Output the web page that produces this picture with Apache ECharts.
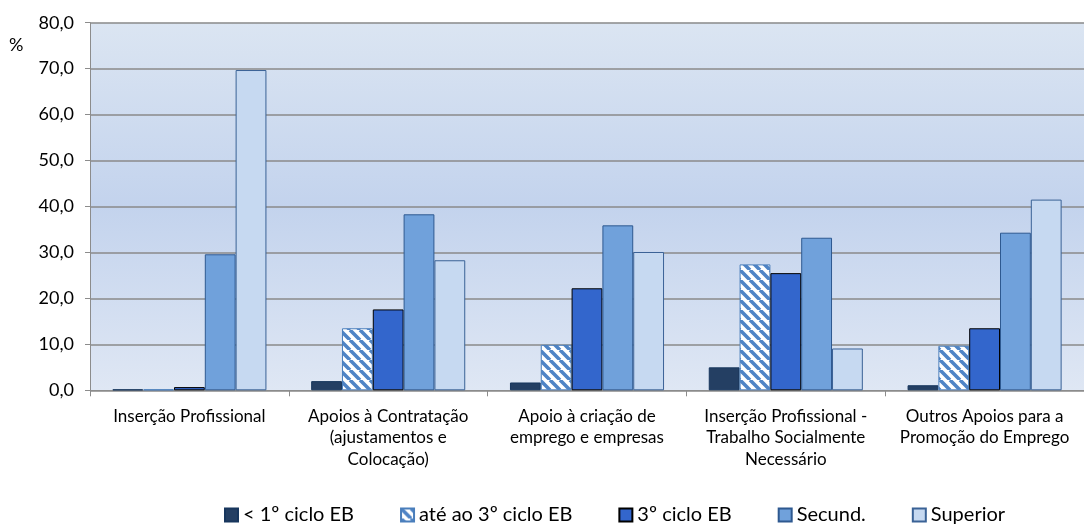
<!DOCTYPE html>
<html>
<head>
<meta charset="utf-8">
<script src="https://cdn.jsdelivr.net/npm/echarts@6/dist/echarts.min.js"></script>
<style>
html,body{margin:0;padding:0;background:#fff;}
#chart{width:1084px;height:524px;}
</style>
</head>
<body>
<div id="chart"></div>
<script>
var categories = [
  "Inserção Profissional",
  "Apoios à Contratação\n(ajustamentos e\nColocação)",
  "Apoio à criação de\nemprego e empresas",
  "Inserção Profissional -\nTrabalho Socialmente\nNecessário",
  "Outros Apoios para a\nPromoção do Emprego"
];
var seriesNames = ["< 1º ciclo EB", "até ao 3º ciclo EB", "3º ciclo EB", "Secund.", "Superior"];
var ciclo1 = [0.2, 2.0, 1.7, 5.0, 1.1];
var ate3 = [0.2, 13.5, 9.9, 27.4, 9.7];
var ciclo3 = [0.7, 17.6, 22.2, 25.5, 13.5];
var secund = [29.6, 38.3, 35.9, 33.2, 34.3];
var superior = [69.7, 28.3, 30.1, 9.1, 41.5];
var yTicks = [0, 10, 20, 30, 40, 50, 60, 70, 80];

function makeHatch() {
  var c = document.createElement('canvas');
  c.width = 10; c.height = 10;
  var ctx = c.getContext('2d');
  ctx.fillStyle = '#ffffff';
  ctx.fillRect(0, 0, 10, 10);
  ctx.strokeStyle = '#4f84c6';
  ctx.lineWidth = 3.6;
  ctx.beginPath();
  for (var k = -10; k <= 20; k += 10) {
    ctx.moveTo(k, 0);
    ctx.lineTo(k + 10, 10);
  }
  ctx.stroke();
  return c;
}
var hatch = makeHatch();

var FONT = 'Lato';
var chart = echarts.init(document.getElementById('chart'), null, {renderer: 'canvas'});
var styles = [
  {color: '#243f63', borderColor: '#17365d'},
  {color: {image: hatch, repeat: 'repeat'}, borderColor: '#4a7ebb'},
  {color: '#3366cc', borderColor: '#000000'},
  {color: '#70a1db', borderColor: '#2e5990'},
  {color: '#c6d9f1', borderColor: '#3a6296'}
];
var datas = [ciclo1, ate3, ciclo3, secund, superior];
var series = seriesNames.map(function (n, i) {
  return {
    name: n,
    type: 'bar',
    data: datas[i],
    barGap: '0%',
    barCategoryGap: '22.5%',
    itemStyle: {color: styles[i].color, borderColor: styles[i].borderColor, borderWidth: 1},
    emphasis: {disabled: true}
  };
});

chart.setOption({
  animation: false,
  backgroundColor: '#ffffff',
  textStyle: {fontFamily: FONT},
  graphic: [
    {type: 'rect', z: -10, shape: {x: 90, y: 22.7, width: 1000, height: 367.6},
     style: {fill: new echarts.graphic.LinearGradient(0, 0, 0, 1, [
       {offset: 0, color: '#dbe5f2'},
       {offset: 0.5, color: '#c3d3ed'},
       {offset: 1, color: '#dfe7f4'}
     ])}},
    {type: 'text', left: 9, top: 36, style: {text: '%', fontSize: 18, fontFamily: FONT, fill: '#000'}}
  ],
  grid: {left: 90, right: -6, top: 22.7, bottom: 133.7, containLabel: false},
  legend: {
    data: seriesNames,
    left: 219, top: 500,
    padding: 5,
    itemWidth: 13, itemHeight: 13, itemGap: 46,
    textStyle: {fontSize: 20, color: '#000', fontFamily: FONT},
    icon: 'rect'
  },
  xAxis: {
    type: 'category',
    data: categories,
    axisLine: {show: true, lineStyle: {color: '#8c8c8c', width: 1}},
    axisTick: {show: true, length: 6, alignWithLabel: false, lineStyle: {color: '#8c8c8c'}},
    axisLabel: {interval: 0, fontSize: 17, color: '#000', lineHeight: 21.5, margin: 15, fontFamily: FONT}
  },
  yAxis: {
    type: 'value',
    min: 0, max: 80, interval: 10,
    axisLine: {show: true, lineStyle: {color: '#8c8c8c', width: 1}},
    axisTick: {show: true, length: 5, lineStyle: {color: '#8c8c8c'}},
    splitLine: {show: true, lineStyle: {color: '#8a8a8a', width: 1.5}},
    axisLabel: {fontSize: 18, color: '#000', margin: 16, fontFamily: FONT,
      formatter: function (v) { return v.toFixed(1).replace('.', ','); }}
  },
  series: series
});
</script>
</body>
</html>
